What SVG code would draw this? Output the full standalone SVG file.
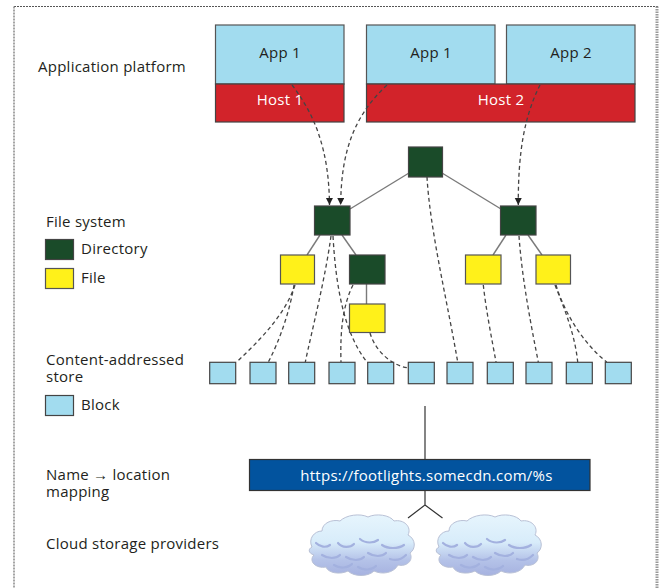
<svg xmlns="http://www.w3.org/2000/svg" xmlns:xlink="http://www.w3.org/1999/xlink" width="665" height="588" viewBox="0 0 665 588">
<style>
text{font-family:"Open Sans","Noto Sans","Liberation Sans",sans-serif;font-size:15px;letter-spacing:0.25px;fill:#231f20}
.white{fill:#ffffff}
.app{fill:#a2dcef;stroke:#555;stroke-width:1.2}
.host{fill:#d2232a;stroke:#444;stroke-width:1.2}
.dir{fill:#1a4b29;stroke:#444;stroke-width:1.2}
.file{fill:#fff11a;stroke:#555;stroke-width:1.2}
.blk{fill:#a2dcef;stroke:#444;stroke-width:1.2}
.tree{stroke:#7a7a7a;stroke-width:1.4;fill:none}
.dash{stroke:#444;stroke-width:1.3;fill:none;stroke-dasharray:4 3}
.solid{stroke:#333;stroke-width:1.2;fill:none}
</style>
<defs>
<marker id="arr" markerWidth="8" markerHeight="8" refX="7" refY="3.5" orient="auto" markerUnits="userSpaceOnUse">
<path d="M0,0 L7,3.5 L0,7 z" fill="#222"/>
</marker>
<linearGradient id="cg" x1="0" y1="0" x2="0" y2="1">
<stop offset="0" stop-color="#e6f5fd"/>
<stop offset="0.45" stop-color="#d8ecfa"/>
<stop offset="0.75" stop-color="#b4c2e8"/>
<stop offset="1" stop-color="#a6b2e0"/>
</linearGradient>
<g id="cloud">
<path d="M4,34 C0,26 6,18 14,18 C14,10 24,6 32,8 C38,2 52,0 60,4 C68,0 82,2 86,8 C96,6 104,14 100,22 C108,26 108,36 102,40 C106,48 98,54 90,52 C86,60 74,62 66,58 C60,64 46,64 40,58 C32,62 20,60 18,54 C8,56 0,48 6,42 C0,40 0,36 4,34 Z" fill="url(#cg)" stroke="#b9c1d6" stroke-width="1"/>
<path d="M8,30 C12,34 18,35 22,32 M30,30 C34,35 42,35 46,31 M52,26 C58,31 66,30 70,27 M74,32 C80,36 90,36 96,32 M14,42 C20,46 28,46 32,42 M38,44 C44,48 52,48 56,44 M60,40 C66,44 74,44 78,40 M82,46 C88,48 94,46 98,42 M26,52 C32,56 40,55 44,51 M50,54 C56,58 64,57 68,53" stroke="#a3b1df" stroke-width="2.2" fill="none" stroke-linecap="round"/>
</g>
</defs>

<g id="frame">
<line x1="14" y1="6.5" x2="658" y2="6.5" stroke="#555" stroke-width="1" stroke-dasharray="2 1"/>
<line x1="14" y1="6.5" x2="14" y2="588" stroke="#888" stroke-width="1.5" stroke-dasharray="2 1"/>
<line x1="657" y1="6.5" x2="657" y2="588" stroke="#999" stroke-width="3" stroke-dasharray="1.5 1"/>
</g>

<g id="labels">
<text x="38" y="72">Application platform</text>
<text x="46" y="227">File system</text>
<text x="81" y="254">Directory</text>
<text x="81" y="283">File</text>
<text x="46" y="365">Content-addressed</text>
<text x="46" y="381.5">store</text>
<text x="81" y="410">Block</text>
<text x="46" y="480">Name → location</text>
<text x="46" y="497">mapping</text>
<text x="46" y="549">Cloud storage providers</text>
</g>

<g id="legend">
<rect class="dir" x="45.5" y="239.5" width="28" height="20"/>
<rect class="file" x="45.5" y="268.5" width="28" height="20"/>
<rect class="blk" x="45.5" y="395.5" width="28" height="20"/>
</g>

<g id="app1a"><rect class="app" x="215.5" y="25" width="128.5" height="59"/><text x="280" y="58" text-anchor="middle">App 1</text></g>
<g id="app1b"><rect class="app" x="366.5" y="25" width="128.5" height="59"/><text x="431" y="58" text-anchor="middle">App 1</text></g>
<g id="app2"><rect class="app" x="506.5" y="25" width="128.5" height="59"/><text x="571" y="58" text-anchor="middle">App 2</text></g>
<g id="host1"><rect class="host" x="215.5" y="84" width="128.5" height="38"/><text class="white" x="280" y="105" text-anchor="middle">Host 1</text></g>
<g id="host2"><rect class="host" x="366.5" y="84" width="268.5" height="38"/><text class="white" x="501" y="105" text-anchor="middle">Host 2</text></g>

<g id="connectors">
<line class="tree" x1="409" y1="173" x2="350" y2="209"/>
<line class="tree" x1="442" y1="173" x2="501" y2="209"/>
<line class="tree" x1="320" y1="235" x2="307" y2="255"/>
<line class="tree" x1="342" y1="235" x2="356" y2="255"/>
<line class="tree" x1="366.5" y1="284" x2="366.5" y2="304"/>
<line class="tree" x1="506" y1="235" x2="493" y2="255"/>
<line class="tree" x1="528" y1="235" x2="542" y2="255"/>
<path class="dash" d="M292,85 C315,115 329,150 329.5,205" marker-end="url(#arr)"/>
<path class="dash" d="M387,85 C355,115 341,150 340.7,205" marker-end="url(#arr)"/>
<path class="dash" d="M540,85 C525,115 518,150 518.3,205" marker-end="url(#arr)"/>
<path class="dash" d="M295,285 C285,315 260,340 236.7,362"/>
<path class="dash" d="M294,285 C290,310 280,340 268.3,362"/>
<path class="dash" d="M331,236 C325,280 312,330 305.3,362"/>
<path class="dash" d="M333,236 C336,290 345,335 367.7,363"/>
<path class="dash" d="M353,285 C343,305 340,330 341,362"/>
<path class="dash" d="M370,333 C375,350 390,365 408.3,368"/>
<path class="dash" d="M427,177 C430,230 447,300 457.7,362"/>
<path class="dash" d="M483.3,285 C486,310 492,340 496,362"/>
<path class="dash" d="M519,236 C522,280 532,330 538.3,362"/>
<path class="dash" d="M555,285 C565,310 575,335 577.7,362"/>
<path class="dash" d="M556,285 C565,315 585,345 606.7,362"/>
<line class="solid" x1="425" y1="406" x2="425" y2="459"/>
<path class="solid" d="M425,491 L425,505 L408,518 M425,505 L442.5,518"/>
</g>

<g id="root"><rect class="dir" x="408.5" y="147" width="34" height="30"/></g>
<g id="dirL"><rect class="dir" x="314.5" y="206" width="35.5" height="29"/></g>
<g id="dirR"><rect class="dir" x="500.5" y="206" width="35.5" height="29"/></g>
<g id="file1"><rect class="file" x="280.5" y="255" width="34" height="29"/></g>
<g id="dir2"><rect class="dir" x="349.5" y="255" width="35.5" height="29"/></g>
<g id="file2"><rect class="file" x="349.5" y="304" width="35.5" height="28.5"/></g>
<g id="file3"><rect class="file" x="465.5" y="255" width="35.5" height="29"/></g>
<g id="file4"><rect class="file" x="536" y="255" width="34.5" height="29"/></g>

<g id="blocks">
<rect class="blk" x="209.7" y="362.3" width="26" height="21.4"/>
<rect class="blk" x="250" y="362.3" width="26" height="21.4"/>
<rect class="blk" x="288.7" y="362.3" width="26" height="21.4"/>
<rect class="blk" x="329" y="362.3" width="26" height="21.4"/>
<rect class="blk" x="367.7" y="362.3" width="26" height="21.4"/>
<rect class="blk" x="408.3" y="362.3" width="26" height="21.4"/>
<rect class="blk" x="447" y="362.3" width="26" height="21.4"/>
<rect class="blk" x="487.3" y="362.3" width="26" height="21.4"/>
<rect class="blk" x="526" y="362.3" width="26" height="21.4"/>
<rect class="blk" x="566.3" y="362.3" width="26" height="21.4"/>
<rect class="blk" x="605.3" y="362.3" width="26" height="21.4"/>
</g>

<g id="mapping">
<rect x="249.5" y="459.5" width="340.5" height="31" fill="#02539e" stroke="#333" stroke-width="1.2"/>
<text class="white" x="426.5" y="480.5" text-anchor="middle">https://footlights.somecdn.com/%s</text>
</g>

<g id="cloudL"><use xlink:href="#cloud" transform="translate(308,513)"/></g>
<g id="cloudR"><use xlink:href="#cloud" transform="translate(435,513)"/></g>
</svg>
